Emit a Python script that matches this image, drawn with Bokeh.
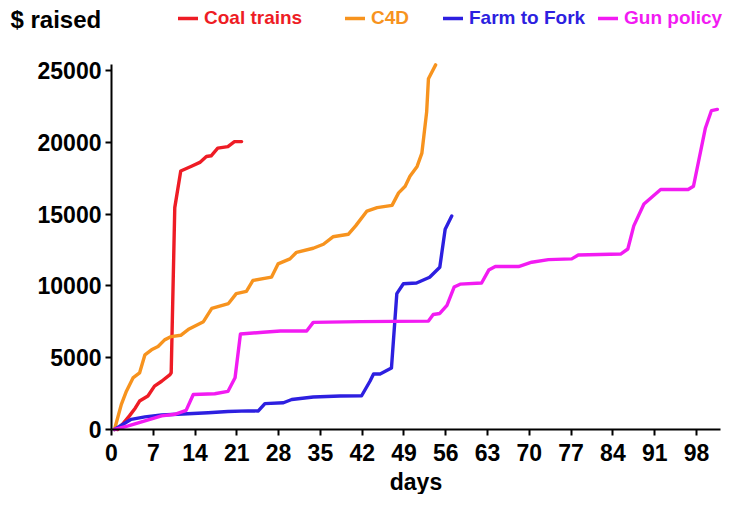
from bokeh.plotting import figure
from bokeh.models import Legend, LegendItem, Label, FixedTicker, Range1d
from bokeh.embed import file_html
from bokeh.resources import INLINE

# ---- data ----
coal_days = [1, 2, 3, 4, 4.7, 6.1, 7.2, 8.4, 9.8, 10.0, 10.6, 11.6, 13.4, 14.8, 15.9, 16.7, 17.8, 19.5, 20.6, 21.8]
coal_vals = [0, 450, 950, 1500, 1980, 2330, 3020, 3360, 3820, 3950, 15450, 18000, 18330, 18600, 19010, 19060, 19590, 19700, 20050, 20050]

c4d_days = [0.5, 1.65, 2.5, 3.6, 4.7, 5.6, 6.7, 7.8, 8.9, 10.0, 11.6, 13.0, 15.4, 16.8, 19.6, 20.9, 22.6, 23.7,
            26.8, 27.9, 29.9, 31.0, 33.8, 35.5, 37.1, 39.7, 40.9, 42.8, 44.5, 47.0, 48.1, 49.2, 50.0, 51.2, 52.0,
            52.8, 53.1, 54.3]
c4d_vals = [0, 1750, 2670, 3590, 3940, 5200, 5550, 5780, 6240, 6470, 6560, 7000, 7510, 8430, 8770, 9460, 9620, 10380,
            10610, 11530, 11880, 12340, 12620, 12900, 13420, 13600, 14180, 15210, 15450, 15610, 16480, 16940, 17630,
            18320, 19250, 22120, 24430, 25390]

farm_days = [0.5, 3.3, 5.6, 8.4, 12.8, 16.2, 19.5, 22.9, 24.6, 25.7, 28.8, 30.2, 33.8, 38.3, 41.9, 43.3, 43.9, 45.0,
             46.9, 47.8, 48.9, 51.1, 53.3, 55.0, 55.9, 57.0]
farm_vals = [0, 710, 880, 1010, 1100, 1170, 1250, 1300, 1290, 1800, 1860, 2090, 2260, 2330, 2350, 3360, 3870, 3870,
             4280, 9460, 10150, 10200, 10600, 11300, 13950, 14870]

gun_days = [0.5, 2.8, 5.6, 8.4, 10.6, 12.5, 13.7, 17.3, 19.5, 20.7, 21.6, 25.4, 28.3, 32.7, 33.8, 41.7, 53.1, 53.9,
            55.0, 56.2, 57.4, 58.4, 62.0, 63.2, 64.3, 68.2, 70.4, 73.2, 77.1, 78.2, 85.3, 86.5, 87.5, 89.2, 92.0,
            96.6, 97.5, 99.5, 100.5, 101.5]
gun_vals = [0, 250, 600, 950, 1060, 1330, 2440, 2490, 2650, 3600, 6650, 6770, 6860, 6860, 7460, 7510, 7550, 8010,
            8080, 8650, 9920, 10120, 10200, 11100, 11350, 11350, 11650, 11830, 11880, 12150, 12220, 12570, 14180,
            15700, 16710, 16710, 16940, 21000, 22200, 22290]

series_names = ["Coal trains", "C4D", "Farm to Fork", "Gun policy"]
series_colors = ["#EE1C25", "#F7931E", "#2D1FE0", "#F21BF2"]

x_ticks = [0, 7, 14, 21, 28, 35, 42, 49, 56, 63, 70, 77, 84, 91, 98]
y_ticks = [0, 5000, 10000, 15000, 20000, 25000]
x_bounds = (0, 102)
y_bounds = (0, 25400)

FONT = "Liberation Sans"
W, H = 724, 494
AX_X, AX_Y = 111, 429          # canvas position of the axes origin
PX_PER_DAY = 5.969
PX_PER_USD = 0.01436

p = figure(width=W, height=H, output_backend="svg", toolbar_location=None,
           x_range=Range1d(-AX_X / PX_PER_DAY, (W - AX_X) / PX_PER_DAY),
           y_range=Range1d(-(H - AX_Y) / PX_PER_USD, AX_Y / PX_PER_USD),
           min_border=0, min_border_left=0, min_border_right=0, min_border_top=0, min_border_bottom=0)
p.outline_line_color = None
p.xgrid.visible = False
p.ygrid.visible = False
p.background_fill_color = "white"
p.border_fill_color = "white"

renderers = []
for d, v, c in zip([coal_days, c4d_days, farm_days, gun_days],
                   [coal_vals, c4d_vals, farm_vals, gun_vals], series_colors):
    r = p.line(d, v, line_color=c, line_width=3.4, line_join="round", line_cap="round")
    renderers.append(r)

for ax in (p.xaxis[0], p.yaxis[0]):
    ax.fixed_location = 0
    ax.axis_line_color = "black"
    ax.axis_line_width = 2
    ax.major_tick_line_color = "black"
    ax.major_tick_line_width = 2
    ax.major_tick_out = 6
    ax.major_tick_in = 0
    ax.minor_tick_line_color = None
    ax.major_label_text_font = FONT
    ax.major_label_text_font_style = "bold"
    ax.major_label_text_font_size = "23px"
    ax.major_label_text_color = "black"

p.xaxis.bounds = x_bounds
p.yaxis.bounds = y_bounds
p.xaxis.ticker = FixedTicker(ticks=x_ticks)
p.yaxis.ticker = FixedTicker(ticks=y_ticks)
p.xaxis.major_label_standoff = 8
p.yaxis.major_label_standoff = 4
p.xaxis.axis_label = "days"
p.xaxis.axis_label_text_font = FONT
p.xaxis.axis_label_text_font_style = "bold"
p.xaxis.axis_label_text_font_size = "23px"
p.xaxis.axis_label_text_color = "black"
p.xaxis.axis_label_standoff = 5

# "$ raised" heading
p.add_layout(Label(x=10, y=H - 19, x_units="screen", y_units="screen", text="$ raised",
                   text_font=FONT, text_font_style="bold", text_font_size="24px",
                   text_color="black", text_baseline="middle"))

# one legend per series so each label gets its own colour
legend_x = [178, 345, 443, 598]
for name, col, r, lx in zip(series_names, series_colors, renderers, legend_x):
    lg = Legend(items=[LegendItem(label=name, renderers=[r])], location=(lx, H - 29),
                orientation="horizontal", padding=0, margin=0, spacing=0,
                glyph_width=20, glyph_height=20, label_height=20, label_standoff=6,
                border_line_alpha=0, background_fill_alpha=0,
                label_text_font=FONT, label_text_font_style="bold",
                label_text_font_size="19px", label_text_color=col)
    p.add_layout(lg, "center")

open("out.html", "w").write(file_html(p, INLINE))
